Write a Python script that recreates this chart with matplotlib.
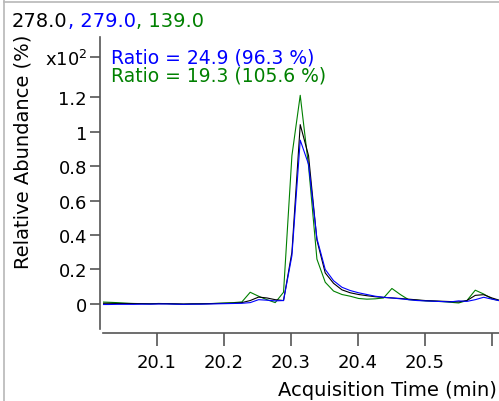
import matplotlib
matplotlib.use("Agg")
import matplotlib.pyplot as plt
from matplotlib.lines import Line2D

# retention times (min), one scan every ~0.0124 min
times = [20.0157, 20.0281, 20.0405, 20.0530, 20.0654, 20.0778, 20.0903, 20.1027,
         20.1151, 20.1276, 20.1400, 20.1524, 20.1648, 20.1773, 20.1897, 20.2021,
         20.2146, 20.2270, 20.2394, 20.2519, 20.2643, 20.2767, 20.2891, 20.3016,
         20.3140, 20.3264, 20.3389, 20.3513, 20.3637, 20.3762, 20.3886, 20.4010,
         20.4134, 20.4259, 20.4383, 20.4507, 20.4632, 20.4756, 20.4880, 20.5005,
         20.5129, 20.5253, 20.5377, 20.5502, 20.5626, 20.5750, 20.5875, 20.5999,
         20.6123]

# relative abundance (x10^2 %)
ion_278 = [0.004, 0.004, 0.003, 0.003, 0.002, 0.002, 0.001, 0.002,
           0.002, 0.001, 0.000, 0.001, 0.001, 0.002, 0.003, 0.004,
           0.005, 0.008, 0.020, 0.040, 0.035, 0.025, 0.020, 0.300,
           1.040, 0.860, 0.370, 0.180, 0.120, 0.082, 0.065, 0.055,
           0.048, 0.042, 0.038, 0.035, 0.032, 0.028, 0.024, 0.020,
           0.018, 0.016, 0.014, 0.012, 0.020, 0.050, 0.054, 0.035,
           0.020]
ion_279 = [-0.003, -0.003, -0.002, -0.002, -0.002, -0.001, -0.001, 0.000,
           0.000, -0.001, -0.002, -0.001, -0.001, 0.000, 0.001, 0.002,
           0.003, 0.004, 0.008, 0.025, 0.022, 0.018, 0.020, 0.280,
           0.950, 0.810, 0.380, 0.200, 0.135, 0.097, 0.078, 0.065,
           0.055, 0.045, 0.039, 0.035, 0.030, 0.025, 0.020, 0.018,
           0.016, 0.014, 0.012, 0.018, 0.015, 0.025, 0.039, 0.028,
           0.018]
ion_139 = [0.012, 0.010, 0.008, 0.005, 0.003, 0.002, 0.001, 0.003,
           0.002, 0.000, -0.002, 0.000, 0.001, 0.002, 0.004, 0.006,
           0.008, 0.012, 0.068, 0.045, 0.025, 0.008, 0.068, 0.860,
           1.210, 0.800, 0.260, 0.126, 0.075, 0.055, 0.045, 0.032,
           0.028, 0.030, 0.035, 0.090, 0.055, 0.025, 0.022, 0.018,
           0.016, 0.014, 0.010, 0.006, 0.020, 0.080, 0.058, 0.030,
           0.018]

ion_labels = ["278.0", "279.0", "139.0"]
ratio_labels = ["Ratio = 24.9 (96.3 %)", "Ratio = 19.3 (105.6 %)"]

xtick_vals = [20.1, 20.2, 20.3, 20.4, 20.5, 20.6]
xtick_labels = ["20.1", "20.2", "20.3", "20.4", "20.5", ""]
ytick_vals = [0, 0.2, 0.4, 0.6, 0.8, 1.0, 1.2, 1.432]
ytick_labels = ["0", "0.2", "0.4", "0.6", "0.8", "1", "1.2", "x10$^{2}$"]

BLUE = "#0000ff"
GREEN = "#008000"
AXCOL = "#555555"

plt.rcParams["font.family"] = "DejaVu Sans"
plt.rcParams["mathtext.fontset"] = "dejavusans"

W, H = 499, 402
fig = plt.figure(figsize=(W / 100, H / 100), dpi=100)
ax = fig.add_axes([103 / W, 72 / H, 396 / W, 292 / H])

ax.plot(times, ion_139, color=GREEN, lw=0.8)
ax.plot(times, ion_278, color="black", lw=0.8)
ax.plot(times, ion_279, color=BLUE, lw=0.8)

ax.set_xlim(20.0199, 20.6104)
ax.set_ylim(-0.145, 1.548)

for side in ("top", "right"):
    ax.spines[side].set_visible(False)
ax.spines["left"].set_position(("outward", 2))
ax.spines["bottom"].set_position(("outward", 3))
for side in ("left", "bottom"):
    ax.spines[side].set_color(AXCOL)
    ax.spines[side].set_linewidth(1.2)

ax.set_xticks(xtick_vals)
ax.set_xticklabels(xtick_labels)
ax.set_yticks(ytick_vals)
ax.set_yticklabels(ytick_labels)
ax.tick_params(axis="x", length=9, width=1.2, color=AXCOL, pad=5, labelsize=13)
ax.tick_params(axis="y", length=7.5, width=1.2, color=AXCOL, pad=2, labelsize=13)

fig.text(23 / W, (H - 152) / H, "Relative Abundance (%)", fontsize=14,
         rotation=90, ha="center", va="center")
fig.text(497 / W, (H - 396) / H, "Acquisition Time (min)", fontsize=14,
         ha="right", va="baseline")

# title made of coloured ion masses
t1 = fig.text(12 / W, (H - 27) / H, ion_labels[0], fontsize=14, color="black",
              va="baseline")
t2 = fig.text(0, 0, ", " + ion_labels[1], fontsize=14, color=BLUE)
t3 = fig.text(0, 0, ", " + ion_labels[2], fontsize=14, color=GREEN)
fig.canvas.draw()
r = fig.canvas.get_renderer()
bb = t1.get_window_extent(r)
t2.set_position((bb.x1 / W, (H - 27) / H))
t2.set_va("baseline")
bb = t2.get_window_extent(r)
t3.set_position((bb.x1 / W, (H - 27) / H))
t3.set_va("baseline")

fig.text(111 / W, (H - 64) / H, ratio_labels[0], fontsize=13.5, color=BLUE, va="baseline")
fig.text(111 / W, (H - 82) / H, ratio_labels[1], fontsize=13.5, color=GREEN, va="baseline")

# window frame
fig.add_artist(Line2D([4 / W, 4 / W], [0, 1], transform=fig.transFigure,
                      color="#b8b8b8", lw=1.2))
fig.add_artist(Line2D([4 / W, 1], [1 - 3 / H, 1 - 3 / H], transform=fig.transFigure,
                      color="#b8b8b8", lw=1.2))

fig.savefig("out.png", dpi=100)
